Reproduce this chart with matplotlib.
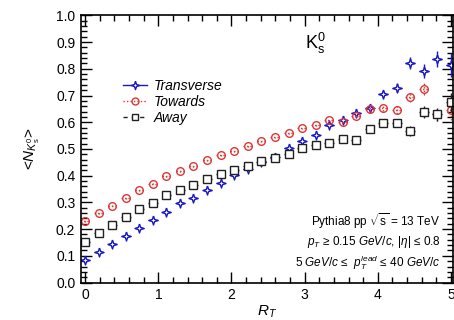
import numpy as np
import matplotlib
matplotlib.use("Agg")
import matplotlib.pyplot as plt
from matplotlib.ticker import MultipleLocator

plt.rcParams['font.family'] = ['Liberation Sans', 'DejaVu Sans']
plt.rcParams['mathtext.fontset'] = 'custom'
plt.rcParams['mathtext.rm'] = 'Liberation Sans'
plt.rcParams['mathtext.it'] = 'Liberation Sans:italic'

# bin centres in R_T
r_t = [0.0, 0.185, 0.37, 0.556, 0.74, 0.926, 1.11, 1.30, 1.48, 1.67,
       1.85, 2.04, 2.22, 2.41, 2.59, 2.78, 2.96, 3.15, 3.33, 3.52,
       3.70, 3.89, 4.07, 4.26, 4.44, 4.63, 4.81, 5.0]

transverse = [0.086, 0.113, 0.145, 0.173, 0.206, 0.236, 0.265, 0.296, 0.317, 0.345,
              0.372, 0.402, 0.424, 0.453, 0.471, 0.505, 0.530, 0.552, 0.588, 0.610,
              0.633, 0.654, 0.704, 0.729, 0.823, 0.791, 0.835, 0.816]
towards = [0.230, 0.261, 0.288, 0.317, 0.346, 0.370, 0.398, 0.417, 0.437, 0.457,
           0.477, 0.493, 0.512, 0.530, 0.543, 0.558, 0.577, 0.590, 0.610, 0.602,
           0.625, 0.648, 0.654, 0.645, 0.695, 0.723, 0.629, 0.644]
away = [0.151, 0.184, 0.217, 0.245, 0.276, 0.299, 0.326, 0.348, 0.366, 0.386,
        0.407, 0.423, 0.438, 0.455, 0.468, 0.483, 0.504, 0.513, 0.523, 0.538,
        0.532, 0.573, 0.598, 0.598, 0.567, 0.638, 0.629, 0.675]

# statistical uncertainties (grow in the sparse high-R_T bins)
err_trans = [0.003] * 18 + [0.006, 0.007, 0.008, 0.010, 0.013, 0.016, 0.022, 0.027, 0.030, 0.045]
err_tow = [0.003] * 18 + [0.005, 0.006, 0.007, 0.009, 0.011, 0.014, 0.018, 0.022, 0.026, 0.035]
err_away = [0.003] * 18 + [0.005, 0.006, 0.007, 0.009, 0.011, 0.014, 0.018, 0.022, 0.026, 0.035]
half_bin = 0.065

# open four-pointed star, like ROOT marker 28/39
star = [(0, 1), (0.25, 0.25), (1, 0), (0.25, -0.25), (0, -1),
        (-0.25, -0.25), (-1, 0), (-0.25, 0.25), (0, 1)]

blue = '#1818c8'
red = '#e03535'
black = '#202020'

fig = plt.figure(figsize=(4.54, 3.2), dpi=100)
ax = fig.add_axes([0.178, 0.117, 0.82, 0.835])

ax.errorbar(r_t, transverse, yerr=err_trans, xerr=half_bin, fmt='none',
            ecolor=blue, elinewidth=1.0)
ax.plot(r_t, transverse, linestyle='none', marker=star, ms=6.5, mfc='white',
        mec=blue, mew=1.0)

h2 = ax.errorbar(r_t, towards, yerr=err_tow, xerr=half_bin, fmt='none',
                 ecolor=red, elinewidth=1.0)
h2[2][0].set_linestyle((0, (1, 1.5)))
h2[2][1].set_linestyle((0, (1, 1.5)))
ax.plot(r_t, towards, linestyle='none', marker='o', ms=5.5, mfc='none',
        mec=red, mew=1.0)

ax.errorbar(r_t, away, yerr=err_away, xerr=half_bin, fmt='none',
            ecolor=black, elinewidth=1.0)
ax.plot(r_t, away, linestyle='none', marker='s', ms=5.5, mfc='white',
        mec=black, mew=1.0)

# legend handles
lh1, = ax.plot([], [], color=blue, lw=1.0, marker=star, ms=6, mfc='white', mec=blue)
lh2, = ax.plot([], [], color=red, lw=1.0, ls=(0, (1, 1.5)), marker='o', ms=5,
               mfc='none', mec=red)
lh3, = ax.plot([], [], color=black, lw=1.0, ls=(0, (3, 3)), marker='s', ms=5,
               mfc='white', mec=black)
ax.legend([lh1, lh2, lh3], ['Transverse', 'Towards', 'Away'],
          loc='upper left', bbox_to_anchor=(0.08, 0.81), frameon=False,
          prop={'style': 'italic', 'size': 10}, handlelength=1.7,
          labelspacing=0.15, handletextpad=0.5)

ax.set_xlim(-0.06, 5.03)
ax.set_ylim(0.0, 1.0)
ax.xaxis.set_major_locator(MultipleLocator(1))
ax.xaxis.set_minor_locator(MultipleLocator(0.2))
ax.yaxis.set_major_locator(MultipleLocator(0.1))
ax.yaxis.set_minor_locator(MultipleLocator(0.02))
ax.yaxis.set_major_formatter(matplotlib.ticker.FormatStrFormatter('%.1f'))
ax.tick_params(which='both', direction='in', top=True, right=True, labelsize=10, width=1.0)
ax.tick_params(which='major', length=8, pad=4)
ax.tick_params(which='minor', length=4)
for s in ax.spines.values():
    s.set_linewidth(1.2)

ax.set_xlabel('$R_T$', fontsize=11, labelpad=1)
ax.set_ylabel(r'<$N_{K^0_\mathrm{s}}$>', fontsize=11, labelpad=10)

ax.text(3.15, 0.895, r'K$^0_\mathrm{s}$', fontsize=13, ha='center', va='center')
ax.text(4.86, 0.228, r'Pythia8 pp $\sqrt{\mathrm{s}}$ = 13 TeV', fontsize=8.5, ha='right', va='center')
ax.text(4.86, 0.15, r'$p_T$ ≥ 0.15 $GeV/c$, |$\eta$| ≤ 0.8', fontsize=8.5, ha='right', va='center')
ax.text(4.86, 0.075, r'5 $GeV/c$ ≤  $p_T^{lead}$ ≤ 40 $GeV/c$', fontsize=8.5, ha='right', va='center')

fig.savefig('out.png', dpi=100)
